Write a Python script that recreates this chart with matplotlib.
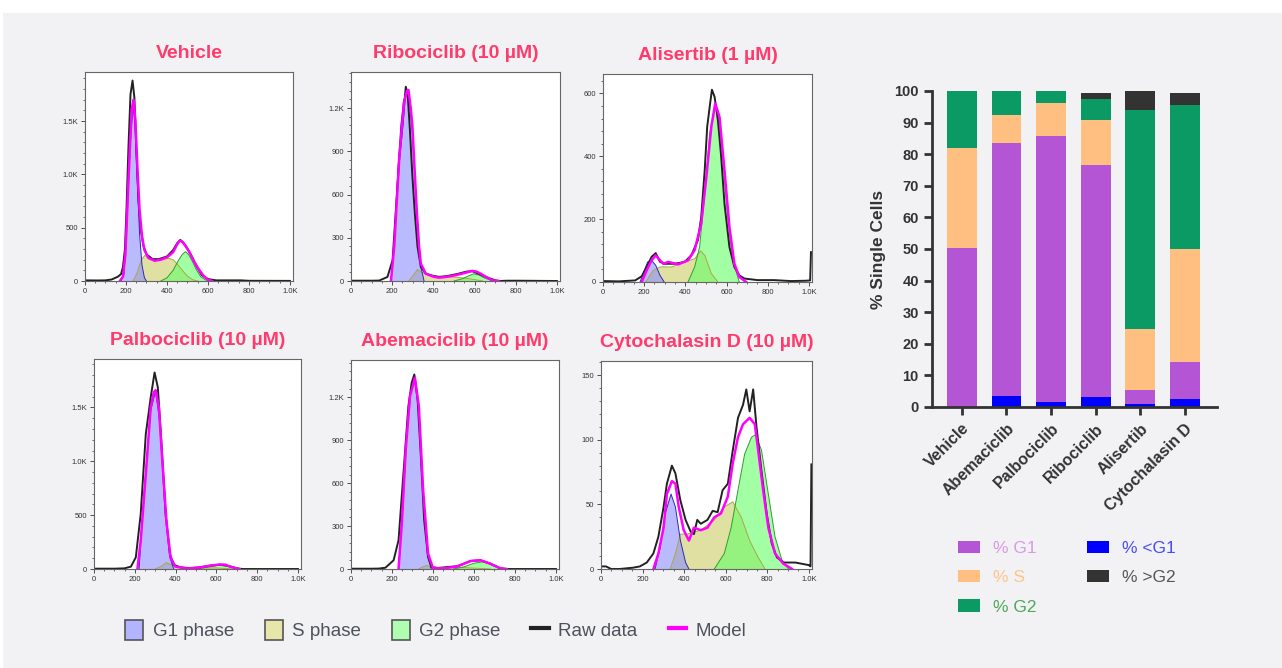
import matplotlib
matplotlib.use('Agg')
import matplotlib.pyplot as plt
import numpy as np
from matplotlib.ticker import AutoMinorLocator
from matplotlib.patches import Patch, Rectangle
from matplotlib.lines import Line2D

plt.rcParams['font.family'] = ['Liberation Sans', 'DejaVu Sans']

# ---- histogram traces, (channel, count) ----
vehicle_raw = [(0, 6), (60, 5), (100, 6), (130, 14), (160, 40), (176, 65), (185, 130), (195, 300), (203, 700),
               (212, 1250), (222, 1750), (232, 1880), (241, 1720), (251, 1200), (261, 760), (271, 500), (285, 330),
               (300, 250), (330, 205), (360, 205), (400, 230), (430, 290), (450, 355), (465, 385), (480, 360),
               (500, 305), (520, 235), (545, 135), (570, 55), (600, 18), (640, 6), (700, 6), (760, 6), (800, 2), (1000, 1)]
vehicle_model = [(170, 0), (185, 40), (197, 250), (208, 750), (219, 1250), (229, 1620), (237, 1700), (246, 1500),
                 (256, 1050), (266, 670), (278, 420), (290, 290), (310, 215), (340, 190), (370, 200), (400, 222),
                 (430, 270), (450, 345), (462, 378), (475, 368), (490, 330), (510, 268), (530, 190), (555, 110),
                 (580, 45), (600, 12), (620, 0)]
vehicle_g1 = [(175, 0), (190, 60), (202, 400), (214, 1000), (226, 1450), (236, 1630), (245, 1450), (256, 900),
              (266, 450), (278, 150), (290, 30), (300, 0)]
vehicle_s = [(235, 0), (255, 80), (275, 200), (292, 240), (315, 205), (345, 190), (380, 205), (410, 212), (430, 200),
             (450, 160), (475, 100), (500, 45), (525, 12), (550, 0)]
vehicle_g2 = [(370, 0), (400, 30), (430, 100), (455, 190), (475, 250), (490, 275), (505, 250), (525, 180),
              (545, 100), (565, 40), (590, 8), (610, 0)]

ribo_raw = [(0, 2), (100, 2), (137, 3), (177, 28), (202, 145), (218, 495), (234, 846), (250, 1079), (266, 1348),
            (275, 1300), (286, 1050), (298, 729), (310, 470), (323, 238), (339, 98), (363, 51), (400, 35), (427, 28),
            (470, 35), (520, 50), (560, 65), (589, 68), (620, 50), (660, 25), (700, 5), (720, 0), (760, 2),
            (815, 2), (1000, 0)]
ribo_model = [(194, 0), (210, 238), (234, 846), (258, 1243), (272, 1320), (279, 1325), (290, 1200), (298, 1079),
              (308, 800), (319, 495), (330, 250), (339, 121), (363, 51), (400, 30), (427, 23), (470, 30), (508, 40),
              (550, 55), (589, 70), (610, 65), (629, 51), (660, 25), (685, 5), (718, 0)]
ribo_g1 = [(194, 0), (205, 150), (218, 495), (230, 820), (242, 1079), (255, 1250), (266, 1290), (279, 1301),
           (290, 1150), (298, 1033), (310, 720), (323, 425), (331, 220), (339, 98), (355, 0)]
ribo_s = [(280, 0), (300, 35), (323, 80), (345, 60), (380, 40), (450, 30), (520, 25), (580, 15), (640, 0)]
ribo_g2 = [(500, 0), (540, 15), (570, 35), (595, 50), (620, 42), (650, 20), (680, 5), (700, 0)]

alis_raw = [(0, 3), (76, 2), (156, 5), (188, 18), (212, 48), (236, 80), (256, 92), (277, 64), (301, 58), (349, 58),
            (397, 64), (429, 85), (461, 133), (477, 207), (494, 356), (506, 494), (518, 557), (529, 612), (542, 589),
            (558, 515), (574, 398), (590, 249), (614, 111), (638, 48), (662, 21), (687, 11), (750, 6), (831, 6),
            (912, 3), (984, 4), (1006, 5), (1010, 95)]
alis_model = [(188, 0), (212, 37), (236, 69), (256, 85), (277, 69), (293, 58), (317, 64), (365, 56), (413, 69),
              (445, 101), (477, 186), (502, 334), (526, 494), (545, 568), (566, 525), (590, 356), (614, 175),
              (638, 58), (662, 16), (695, 0)]
alis_g1 = [(180, 0), (201, 37), (217, 64), (236, 69), (256, 53), (277, 21), (297, 0)]
alis_s = [(207, 0), (244, 37), (277, 48), (333, 48), (397, 64), (445, 74), (474, 99), (494, 85), (526, 27), (558, 0)]
alis_g2 = [(413, 0), (445, 48), (469, 111), (494, 281), (518, 472), (542, 557), (558, 547), (582, 387), (606, 207),
           (630, 69), (662, 0)]

palbo_raw = [(0, 3), (100, 3), (149, 6), (181, 22), (205, 108), (229, 510), (254, 1253), (278, 1593), (297, 1825),
             (313, 1686), (330, 1191), (351, 510), (372, 139), (391, 40), (423, 15), (472, 8), (520, 15), (569, 31),
             (617, 40), (666, 25), (700, 5), (730, 0), (1000, 0)]
palbo_model = [(213, 0), (229, 263), (254, 881), (278, 1500), (293, 1640), (302, 1661), (318, 1500), (334, 1036),
               (355, 448), (375, 108), (399, 22), (456, 5), (520, 15), (569, 31), (617, 42), (645, 40), (666, 22),
               (714, 0)]
palbo_g1 = [(221, 0), (246, 727), (278, 1469), (302, 1655), (326, 1315), (351, 572), (372, 108), (391, 0)]
palbo_s = [(300, 0), (330, 25), (355, 60), (380, 40), (420, 15), (500, 12), (600, 10), (680, 0)]
palbo_g2 = [(500, 0), (540, 10), (580, 25), (620, 38), (650, 35), (680, 20), (710, 5), (730, 0)]

abema_raw = [(0, 2), (100, 2), (136, 3), (168, 9), (208, 61), (232, 201), (256, 669), (280, 1137), (296, 1300),
             (309, 1359), (325, 1184), (341, 786), (357, 342), (376, 84), (392, 14), (424, 7), (480, 15), (520, 19),
             (584, 56), (632, 61), (680, 37), (728, 5), (760, 0), (1000, 0)]
abema_model = [(232, 0), (248, 318), (267, 833), (288, 1207), (312, 1336), (331, 1137), (352, 552), (376, 108),
               (400, 7), (456, 5), (520, 19), (584, 56), (632, 61), (680, 37), (728, 5), (760, 0)]
abema_g1 = [(232, 0), (251, 388), (272, 926), (293, 1254), (312, 1324), (331, 1090), (352, 529), (373, 108), (392, 0)]
abema_s = [(330, 0), (350, 15), (370, 25), (390, 12), (450, 8), (550, 10), (620, 5), (680, 0)]
abema_g2 = [(500, 0), (550, 15), (600, 40), (640, 50), (670, 40), (700, 20), (730, 5), (760, 0)]

cyto_raw = [(0, 2), (24, 2), (49, 0), (89, 0), (154, 1), (187, 2), (220, 5), (252, 12), (276, 25), (301, 48),
            (317, 66), (341, 80), (358, 74), (382, 53), (407, 38), (431, 29), (447, 27), (463, 38), (480, 35),
            (512, 38), (537, 45), (561, 44), (585, 61), (610, 66), (634, 92), (659, 117), (683, 127), (699, 139),
            (715, 122), (732, 139), (748, 110), (772, 76), (797, 43), (821, 20), (846, 9), (878, 5), (935, 5),
            (1000, 3), (1008, 2), (1012, 81)]
cyto_model = [(252, 0), (276, 12), (301, 32), (317, 58), (341, 68), (358, 66), (374, 48), (398, 30), (423, 22),
              (447, 32), (480, 30), (512, 32), (545, 40), (577, 43), (610, 56), (634, 82), (659, 102), (683, 112),
              (715, 117), (740, 112), (756, 92), (780, 61), (805, 32), (837, 12), (878, 4), (919, 0)]
cyto_g1 = [(260, 0), (285, 17), (309, 43), (337, 58), (358, 48), (382, 22), (407, 5), (423, 0)]
cyto_s = [(333, 0), (358, 12), (382, 27), (415, 27), (480, 30), (545, 38), (593, 48), (634, 52), (675, 40),
          (715, 22), (756, 9), (789, 0)]
cyto_g2 = [(545, 0), (593, 12), (626, 32), (659, 61), (691, 89), (724, 102), (743, 104), (772, 92), (805, 58),
           (837, 25), (870, 7), (902, 0)]

# ---- stacked bar data (% single cells) ----
treatments = ['Vehicle', 'Abemaciclib', 'Palbociclib', 'Ribociclib', 'Alisertib', 'Cytochalasin D']
pct_lt_g1 = [0.0, 3.6, 1.7, 3.2, 0.9, 2.5]
pct_g1 = [50.3, 79.9, 84.1, 73.3, 4.4, 11.7]
pct_s = [31.8, 8.9, 10.3, 14.3, 19.4, 35.9]
pct_g2 = [17.9, 7.6, 3.9, 6.8, 69.3, 45.6]
pct_gt_g2 = [0.0, 0.0, 0.0, 1.7, 6.0, 3.6]

W, H = 1282, 668
fig = plt.figure(figsize=(W / 100, H / 100), dpi=100, facecolor='white')
fig.patches.append(Rectangle((3 / W, 0), 1 - 3 / W, (H - 13) / H, transform=fig.transFigure,
                             facecolor='#f2f2f4', edgecolor='none', zorder=-10))


def px_axes(x0, y0, x1, y1):
    return fig.add_axes([x0 / W, 1 - y1 / H, (x1 - x0) / W, (y1 - y0) / H])


def kfmt(v):
    if v >= 1000:
        return f'{v / 1000:.1f}K'
    return str(v)


G1_C, S_C, G2_C = '#8c8cff', '#cccc66', '#66ff66'
TITLE_C = '#ff3a6c'


def draw_hist(ax, title, raw, model, g1, s, g2, ymax, yticks):
    for pts, fc, ec in [(s, S_C, '#a8a848'), (g2, G2_C, '#2e9e2e'), (g1, G1_C, '#2a2ab8')]:
        x, y = np.array(pts, dtype=float).T
        ax.fill_between(x, 0, y, facecolor=fc, alpha=0.6, edgecolor='none')
        ax.plot(x, y, color=ec, lw=0.7)
    x, y = np.array(raw, dtype=float).T
    ax.plot(x, y, color='#222222', lw=1.4)
    x, y = np.array(model, dtype=float).T
    ax.plot(x, y, color='#ff00ff', lw=1.8)

    ax.set_xlim(0, 1015)
    ax.set_ylim(0, ymax)
    ax.set_xticks([0, 200, 400, 600, 800, 1000])
    ax.set_xticklabels(['0', '200', '400', '600', '800', '1.0K'])
    ax.set_yticks(yticks)
    ax.set_yticklabels([kfmt(v) for v in yticks])
    ax.xaxis.set_minor_locator(AutoMinorLocator(4))
    ax.yaxis.set_minor_locator(AutoMinorLocator(5))
    ax.tick_params(which='major', labelsize=5.5, length=3, width=0.6, color='#333333', pad=2, labelcolor='#333333')
    ax.tick_params(which='minor', length=1.5, width=0.5, color='#333333')
    for sp in ax.spines.values():
        sp.set_color('#666666')
        sp.set_linewidth(0.8)
    ax.set_facecolor('white')
    ax.set_title(title, color=TITLE_C, fontsize=14, fontweight='bold', pad=10)


draw_hist(px_axes(85, 72, 293, 281), 'Vehicle', vehicle_raw, vehicle_model, vehicle_g1, vehicle_s, vehicle_g2,
          1960, [0, 500, 1000, 1500])
draw_hist(px_axes(351, 72, 560, 281), 'Ribociclib (10 µM)', ribo_raw, ribo_model, ribo_g1, ribo_s, ribo_g2,
          1450, [0, 300, 600, 900, 1200])
draw_hist(px_axes(603, 74, 812, 282), 'Alisertib (1 µM)', alis_raw, alis_model, alis_g1, alis_s, alis_g2,
          662, [0, 200, 400, 600])
draw_hist(px_axes(94, 359, 301, 569), 'Palbociclib (10 µM)', palbo_raw, palbo_model, palbo_g1, palbo_s, palbo_g2,
          1950, [0, 500, 1000, 1500])
draw_hist(px_axes(351, 360, 559, 569), 'Abemaciclib (10 µM)', abema_raw, abema_model, abema_g1, abema_s, abema_g2,
          1460, [0, 300, 600, 900, 1200])
draw_hist(px_axes(601, 361, 812, 569), 'Cytochalasin D (10 µM)', cyto_raw, cyto_model, cyto_g1, cyto_s, cyto_g2,
          161, [0, 50, 100, 150])

# bottom legend for the histograms
hist_handles = [Patch(facecolor='#b2b4ff', edgecolor='#555555', lw=1.2, label='G1 phase'),
                Patch(facecolor='#e6e6aa', edgecolor='#555555', lw=1.2, label='S phase'),
                Patch(facecolor='#b0ffb0', edgecolor='#555555', lw=1.2, label='G2 phase'),
                Line2D([], [], color='#222222', lw=3, label='Raw data'),
                Line2D([], [], color='#ff00ff', lw=3, label='Model')]
fig.legend(handles=hist_handles, loc='center', bbox_to_anchor=(436 / W, 1 - 630 / H), ncol=5, frameon=False,
           fontsize=13.5, labelcolor='#4d525c', handlelength=0.95, handleheight=1.3, columnspacing=1.65,
           handletextpad=0.5)

# ---- stacked bars ----
bax = px_axes(932, 91, 1217, 407)
bax.set_facecolor('none')
xpos = np.arange(len(treatments))
bottom = np.zeros(len(treatments))
bar_colors = ['#0000ff', '#b455d6', '#ffbf80', '#0b9a63', '#333333']
for vals, c in zip([pct_lt_g1, pct_g1, pct_s, pct_g2, pct_gt_g2], bar_colors):
    bax.bar(xpos, vals, bottom=bottom, width=0.67, color=c)
    bottom += np.array(vals)

bax.set_xlim(-0.67, 5.72)
bax.set_ylim(0, 100)
bax.set_yticks(np.arange(0, 101, 10))
bax.set_xticks(xpos)
bax.set_xticklabels(treatments, rotation=45, ha='right', rotation_mode='anchor', fontweight='bold',
                    fontsize=11.5, color='#333333')
for lab in bax.get_yticklabels():
    lab.set_fontweight('bold')
bax.tick_params(axis='y', labelsize=10.5, labelcolor='#333333', length=6, width=2, color='#333333')
bax.tick_params(axis='x', length=6, width=2, color='#333333', pad=4)
bax.spines['top'].set_visible(False)
bax.spines['right'].set_visible(False)
for side in ['left', 'bottom']:
    bax.spines[side].set_linewidth(2)
    bax.spines[side].set_color('#333333')
bax.set_ylabel('% Single Cells', fontsize=12.5, fontweight='bold', color='#333333', labelpad=6)

bar_handles = [Patch(facecolor='#b455d6', label='% G1'),
               Patch(facecolor='#ffbf80', label='% S'),
               Patch(facecolor='#0b9a63', label='% G2'),
               Patch(facecolor='#0000ff', label='% <G1'),
               Patch(facecolor='#333333', label='% >G2')]
fig.legend(handles=bar_handles, loc='upper left', bbox_to_anchor=(942 / W, 1 - 525 / H), ncol=2, frameon=False,
           fontsize=12.5, labelcolor=['#d89ae6', '#ffc488', '#4aa85a', '#4a4aff', '#555555'],
           handlelength=1.27, handleheight=0.7, columnspacing=2.9, labelspacing=0.82, handletextpad=0.75)

fig.savefig('out.png', dpi=100, facecolor=fig.get_facecolor())
